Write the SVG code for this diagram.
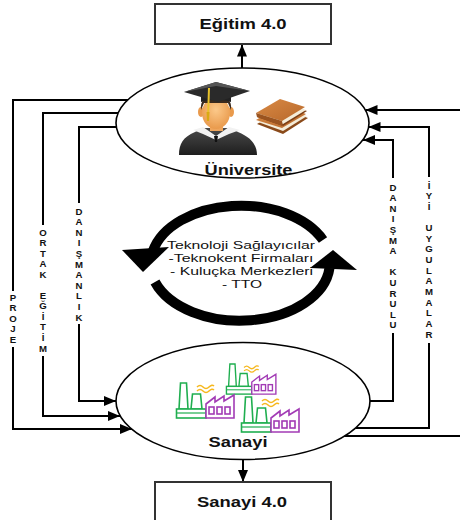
<svg xmlns="http://www.w3.org/2000/svg" width="460" height="520" viewBox="0 0 460 520">
  <style>
    .box { fill: #fff; stroke: #333; stroke-width: 2; }
    .node { fill: #fff; stroke: #000; stroke-width: 1.6; }
    .title { font-family: "Liberation Sans", Arial, sans-serif; font-weight: bold; font-size: 15px; fill: #111; }
    .conn { fill: none; stroke: #000; stroke-width: 2; }
    .lbl { font-family: "Liberation Sans", Arial, sans-serif; font-weight: bold; font-size: 9.6px; fill: #111; text-anchor: middle; }
    .mid { font-family: "Liberation Sans", Arial, sans-serif; font-size: 11.5px; fill: #111; text-anchor: middle; }
    .grn { fill: #fff; stroke: #1fae4f; stroke-width: 1.6; }
    .pur { fill: #fff; stroke: #a23bb5; stroke-width: 1.6; }
    .smk { fill: none; stroke: #f6b81e; stroke-width: 1.5; }
  </style>
  <defs>
    <marker id="ah" viewBox="0 0 12 10" refX="12" refY="5" markerWidth="12" markerHeight="10" markerUnits="userSpaceOnUse" orient="auto">
      <path d="M0,0 L12,5 L0,10 z" fill="#000"/>
    </marker>
    <filter id="soft" x="-10%" y="-10%" width="120%" height="120%">
      <feGaussianBlur stdDeviation="0.5"/>
    </filter>
    <linearGradient id="gown" x1="0" y1="0" x2="0" y2="1">
      <stop offset="0" stop-color="#4a4a4a"/>
      <stop offset="1" stop-color="#1e1e1e"/>
    </linearGradient>
    <radialGradient id="skin" cx="0.5" cy="0.4" r="0.6">
      <stop offset="0" stop-color="#fcc98a"/>
      <stop offset="1" stop-color="#e99a4c"/>
    </radialGradient>
    <linearGradient id="cover" x1="0" y1="0" x2="1" y2="1">
      <stop offset="0" stop-color="#d98a45"/>
      <stop offset="1" stop-color="#b8682a"/>
    </linearGradient>
    <!-- one factory: green chimneys and base, purple saw-tooth hall, yellow smoke -->
    <g id="factory">
      <path class="grn" d="M3,26 L4.5,0 L10.5,0 L12,26 Z"/>
      <path class="grn" d="M15,26 L16.5,11 L24.5,11 L26,26 Z"/>
      <rect class="grn" x="0.5" y="26" width="29.5" height="9"/>
      <line x1="0.5" y1="30" x2="30" y2="30" stroke="#1fae4f" stroke-width="1.2"/>
      <path class="pur" d="M30,35 V21 L39,14 V19 L48,13 V18 L58,12 V35 Z"/>
      <rect class="pur" x="33" y="24" width="5" height="7" stroke-width="1.2"/>
      <rect class="pur" x="41" y="24" width="5" height="7" stroke-width="1.2"/>
      <rect class="pur" x="49" y="24" width="5" height="7" stroke-width="1.2"/>
      <path class="smk" d="M21,4 q3,-3 6,0 t6,0 t5,-1"/>
      <path class="smk" d="M21,8 q3,-3 6,0 t6,0 t5,-1"/>
    </g>
  </defs>

  <rect width="460" height="520" fill="#fff"/>

  <!-- connectors -->
  <g id="connectors">
    <path class="conn" d="M242,68 V44.5" marker-end="url(#ah)"/>
    <path class="conn" d="M243,460 V482" marker-end="url(#ah)"/>
    <!-- PROJE -->
    <path class="conn" d="M128,100 H13 V291"/>
    <path class="conn" d="M13,347 V429 H132" marker-end="url(#ah)"/>
    <!-- ORTAK EGITIM -->
    <path class="conn" d="M118,113 H43 V225"/>
    <path class="conn" d="M43,356 V416 H120" marker-end="url(#ah)"/>
    <!-- DANISMANLIK -->
    <path class="conn" d="M116,127 H79 V203"/>
    <path class="conn" d="M79,324 V401 H116" marker-end="url(#ah)"/>
    <!-- right side -->
    <path class="conn" d="M460,110 H365.5" marker-end="url(#ah)"/>
    <path class="conn" d="M429,177 V127 H368.5" marker-end="url(#ah)"/>
    <path class="conn" d="M356,428 H429 V343"/>
    <path class="conn" d="M393,178 V140 H363" marker-end="url(#ah)"/>
    <path class="conn" d="M369,401 H393 V333"/>
    <path class="conn" d="M344,436 H460"/>

    <text class="lbl" x="13 13 13 13 13" y="300.5 311 321.5 332 342.5">PROJE</text>
    <text class="lbl" x="43 43 43 43 43 43 43 43 43 43 43 43" y="235.5 246 256.6 267.1 277.7 288.2 298.8 309.3 319.9 330.4 341 351.5">ORTAK EĞİTİM</text>
    <text class="lbl" x="79 79 79 79 79 79 79 79 79 79 79" y="214.5 225.1 235.7 246.3 256.9 267.5 278.1 288.7 299.3 309.9 320.5">DANIŞMANLIK</text>
    <text class="lbl" x="393 393 393 393 393 393 393 393 393 393 393 393 393 393" y="190.5 201.1 211.7 222.3 232.9 243.5 254.1 264.7 275.3 285.9 296.5 307.1 317.7 328.3">DANIŞMA KURULU</text>
    <text class="lbl" x="429 429 429 429 429 429 429 429 429 429 429 429 429 429 429" y="188.5 199.1 209.8 220.4 231.1 241.7 252.3 263 273.6 284.3 294.9 305.5 316.2 326.8 337.5">İYİ UYGULAMALAR</text>
  </g>

  <!-- top result box -->
  <g id="egitim40">
    <rect class="box" x="155" y="4" width="176" height="40"/>
    <text class="title" x="243" y="29" text-anchor="middle" textLength="87" lengthAdjust="spacingAndGlyphs">Eğitim 4.0</text>
  </g>

  <!-- university node -->
  <g id="universite">
    <ellipse class="node" cx="242.5" cy="123" rx="126.5" ry="55"/>
    <!-- graduate -->
    <path d="M179,155 C179,144 183,137 195,132 L203,128 H230 L238,132 C250,137 257,144 257,155 Z" fill="url(#gown)"/>
    <rect x="210" y="122" width="13" height="9" fill="#eea55c"/>
    <path d="M193,130 L203,127 L216,136 L229,127 L240,130 L229,134 L216,140 L203,134 Z" fill="#f2f2f2"/>
    <path d="M214,136 L218,136 L217,142 L215,142 Z" fill="#111"/>
    <ellipse cx="201" cy="112" rx="3" ry="5" fill="#e99a4c"/>
    <ellipse cx="231" cy="112" rx="3" ry="5" fill="#e99a4c"/>
    <ellipse cx="216" cy="113" rx="14" ry="16" fill="url(#skin)"/>
    <path d="M201,110 C200,100 205,96 216,96 C227,96 232,100 231,110 L228,103 H204 Z" fill="#3a2a1e"/>
    <path d="M201,102 L201,96 L231,96 L231,102 C222,99 210,99 201,102 Z" fill="#222"/>
    <path d="M184,92 L216,82 L250,91 L218,102 Z" fill="#2a2a2a"/>
    <path d="M184,92 L216,82 L250,91 L216,86 Z" fill="#555"/>
    <path d="M209,88 L208,118" stroke="#e8c22a" stroke-width="2" fill="none"/>
    <path d="M206.5,112 L209.5,112 L209,121 L207,121 Z" fill="#d9aa12"/>
    <!-- books -->
    <path d="M257,124 L282,109 L308,118 L283,134 Z" fill="#8a4a1a"/>
    <path d="M258,122 L282,107 L307,116 L283,131 Z" fill="#f4ecd8"/>
    <path d="M256,120 L281,105 L306,114 L282,128 Z" fill="url(#cover)"/>
    <path d="M257,117 L281,102 L307,111 L283,126 Z" fill="#7c3f14"/>
    <path d="M258,116 L281,102 L306,110 L283,124 Z" fill="#f4ecd8"/>
    <path d="M256,113 L280,99 L305,107 L282,121 Z" fill="url(#cover)"/>
    <path d="M256,113 L282,121 L283,126 L257,117 Z" fill="#9b5420"/>
    <text class="title" x="248.5" y="175" text-anchor="middle" textLength="88" lengthAdjust="spacingAndGlyphs">Üniversite</text>
  </g>

  <!-- central cycle of technology providers -->
  <g id="teknoloji">
    <text class="mid" x="241" y="249" textLength="148" lengthAdjust="spacingAndGlyphs">Teknoloji Sağlayıcılar</text>
    <text class="mid" x="241" y="262" textLength="145" lengthAdjust="spacingAndGlyphs">-Teknokent Firmaları</text>
    <text class="mid" x="241.5" y="275" textLength="143" lengthAdjust="spacingAndGlyphs">- Kuluçka Merkezleri</text>
    <text class="mid" x="242" y="288" textLength="40" lengthAdjust="spacingAndGlyphs">- TTO</text>
    <g filter="url(#soft)">
      <path d="M323,240 A90,58 0 0 0 153,251" fill="none" stroke="#000" stroke-width="10"/>
      <polygon points="122,250 169,247 143,272" fill="#000"/>
      <path d="M155,282 A90,58 0 0 0 329.5,268" fill="none" stroke="#000" stroke-width="10"/>
      <polygon points="310,268 357,270 333,250" fill="#000"/>
    </g>
  </g>

  <!-- industry node -->
  <g id="sanayi">
    <ellipse class="node" cx="243" cy="401" rx="127" ry="58.5"/>
    <use href="#factory" transform="translate(226,364) scale(0.86)"/>
    <use href="#factory" transform="translate(176,383)"/>
    <use href="#factory" transform="translate(241,397)"/>
    <text class="title" x="238" y="447" text-anchor="middle" textLength="59" lengthAdjust="spacingAndGlyphs">Sanayi</text>
  </g>

  <!-- bottom result box -->
  <g id="sanayi40">
    <rect class="box" x="155" y="482" width="176" height="60"/>
    <text class="title" x="242" y="507" text-anchor="middle" textLength="90" lengthAdjust="spacingAndGlyphs">Sanayi 4.0</text>
  </g>
</svg>
